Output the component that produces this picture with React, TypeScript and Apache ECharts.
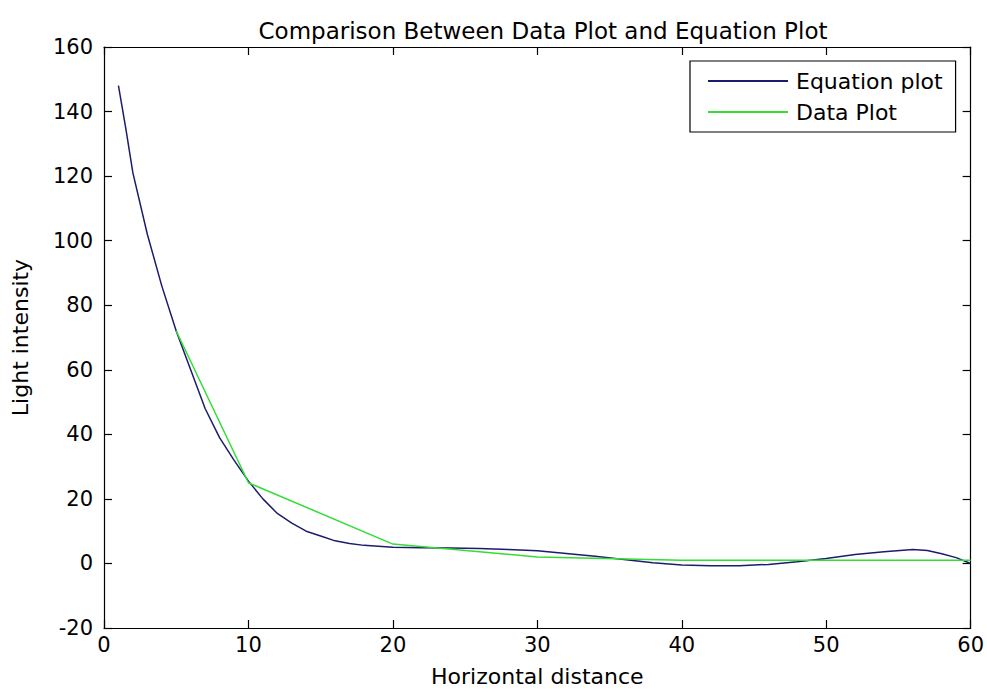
import React, { useEffect, useRef } from "react";
import * as echarts from "echarts";

const titleText = "Comparison Between Data Plot and Equation Plot";
const xAxisName = "Horizontal distance";
const yAxisName = "Light intensity";
const seriesNames = ["Equation plot", "Data Plot"];

const eqX = [1, 1.5, 2, 3, 4, 5, 6, 7, 8, 9, 10, 11, 12, 13, 14, 15, 16, 17, 18, 20, 22, 24, 26, 28, 30, 32, 34, 36, 38, 40, 42, 44, 46, 48, 50, 52, 54, 56, 57, 58, 59, 60];
const eqY = [148, 135, 121, 102, 86, 72, 60, 48, 39, 32, 25.5, 20, 15.5, 12.5, 10, 8.5, 7, 6.2, 5.6, 5, 4.9, 4.8, 4.6, 4.3, 3.9, 3.1, 2.2, 1.2, 0.2, -0.5, -0.7, -0.7, -0.3, 0.5, 1.5, 2.8, 3.6, 4.3, 4.0, 3.0, 1.8, 0];

const dataX = [5, 10, 20, 30, 40, 50, 60];
const dataY = [72, 25, 6, 2, 1, 1, 1];

const FONT = "DejaVu Sans";

export default function App() {
  const ref = useRef<HTMLDivElement>(null);
  useEffect(() => {
    if (!ref.current) return;
    const chart = echarts.init(ref.current, null, { renderer: "svg" });
    const axisLine = { show: true, onZero: false, lineStyle: { color: "#000", width: 1.2 } };
    const tick = { show: true, inside: true, length: 8, lineStyle: { color: "#000", width: 1.2 } };
    const labelStyle = { color: "#000", fontSize: 21, fontFamily: FONT };
    const nameStyle = { color: "#000", fontSize: 22, fontFamily: FONT };
    chart.setOption({
      animation: false,
      backgroundColor: "#fff",
      title: {
        text: titleText,
        left: 538,
        textAlign: "center",
        top: 14,
        textStyle: { color: "#000", fontSize: 23, fontWeight: "normal", fontFamily: FONT },
      },
      grid: { left: 104, right: 15, top: 47, bottom: 60, containLabel: false },
      legend: {
        orient: "vertical",
        left: 690,
        top: 61,
        padding: [9, 13, 9, 17],
        itemGap: 9,
        itemWidth: 80,
        itemHeight: 14,
        borderColor: "#000",
        borderWidth: 1.2,
        backgroundColor: "#fff",
        itemStyle: { opacity: 0 },
        textStyle: { color: "#000", fontSize: 22, fontFamily: FONT, padding: [0, 0, 0, 3] },
        data: seriesNames,
      },
      xAxis: [
        {
          type: "value",
          min: 0,
          max: 60,
          interval: 10,
          position: "bottom",
          axisLine,
          axisTick: tick,
          splitLine: { show: false },
          axisLabel: { ...labelStyle, margin: 6 },
          name: xAxisName,
          nameLocation: "middle",
          nameGap: 37,
          nameTextStyle: nameStyle,
        },
        {
          type: "value",
          min: 0,
          max: 60,
          interval: 10,
          position: "top",
          axisLine,
          axisTick: tick,
          splitLine: { show: false },
          axisLabel: { show: false },
        },
      ],
      yAxis: [
        {
          type: "value",
          min: -20,
          max: 160,
          interval: 20,
          position: "left",
          axisLine,
          axisTick: tick,
          splitLine: { show: false },
          axisLabel: { ...labelStyle, margin: 11 },
          name: yAxisName,
          nameLocation: "middle",
          nameGap: 73,
          nameTextStyle: nameStyle,
        },
        {
          type: "value",
          min: -20,
          max: 160,
          interval: 20,
          position: "right",
          axisLine,
          axisTick: tick,
          splitLine: { show: false },
          axisLabel: { show: false },
        },
      ],
      series: [
        {
          name: seriesNames[0],
          type: "line",
          xAxisIndex: 0,
          yAxisIndex: 0,
          symbol: "none",
          smooth: false,
          lineStyle: { color: "#1c1c6e", width: 1.5 },
          itemStyle: { color: "#1c1c6e" },
          data: eqX.map((x, i) => [x, eqY[i]]),
        },
        {
          name: seriesNames[1],
          type: "line",
          xAxisIndex: 0,
          yAxisIndex: 0,
          symbol: "none",
          smooth: false,
          lineStyle: { color: "#33dd33", width: 1.5 },
          itemStyle: { color: "#33dd33" },
          data: dataX.map((x, i) => [x, dataY[i]]),
        },
      ],
    });
    return () => chart.dispose();
  }, []);
  return (
    <div
      ref={ref}
      style={{ position: "fixed", left: 0, top: 0, width: 987, height: 692, background: "#fff" }}
    />
  );
}
